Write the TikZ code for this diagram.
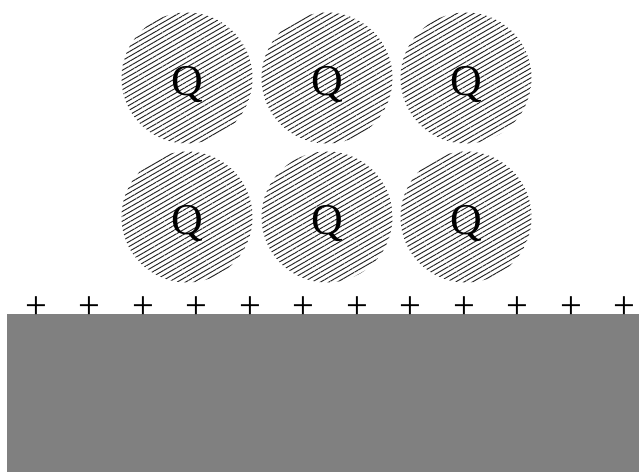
\documentclass[tikz,border=0pt]{standalone}
\usepackage{fontspec}
\setmainfont{Liberation Serif}
\usetikzlibrary{patterns.meta}
\definecolor{PlateGray}{RGB}{128, 128, 128}

\tikzset{
  charge/.style={circle, minimum size=2.62cm, inner sep=0pt,
                 text height=20pt, text depth=0pt,
                 pattern={Lines[angle=30, distance=2.4pt, line width=0.55pt]},
                 pattern color=black!85, font=\fontsize{25}{30}\selectfont},
  plus/.style={inner sep=0pt, font=\fontsize{22}{24}\selectfont}
}

\begin{document}
\begin{tikzpicture}[x=0.02cm, y=-0.02cm]
            \useasboundingbox (0,0) rectangle (639,472);
            % Charged plate
            \fill[PlateGray] (7,314) rectangle (639,472);
            % Surface charges
            \foreach \k in {0,...,11}
                \node[plus] (p\k) at ({36+53.5*\k}, 308) {+};
            % Hatched Q spheres, two rows
            \node[charge] (q1) at (187, 78) {Q};
            \node[charge] (q2) at (327, 78) {Q};
            \node[charge] (q3) at (466, 78) {Q};
            \node[charge] (q4) at (187, 217) {Q};
            \node[charge] (q5) at (327, 217) {Q};
            \node[charge] (q6) at (466, 217) {Q};
\end{tikzpicture}
\end{document}
